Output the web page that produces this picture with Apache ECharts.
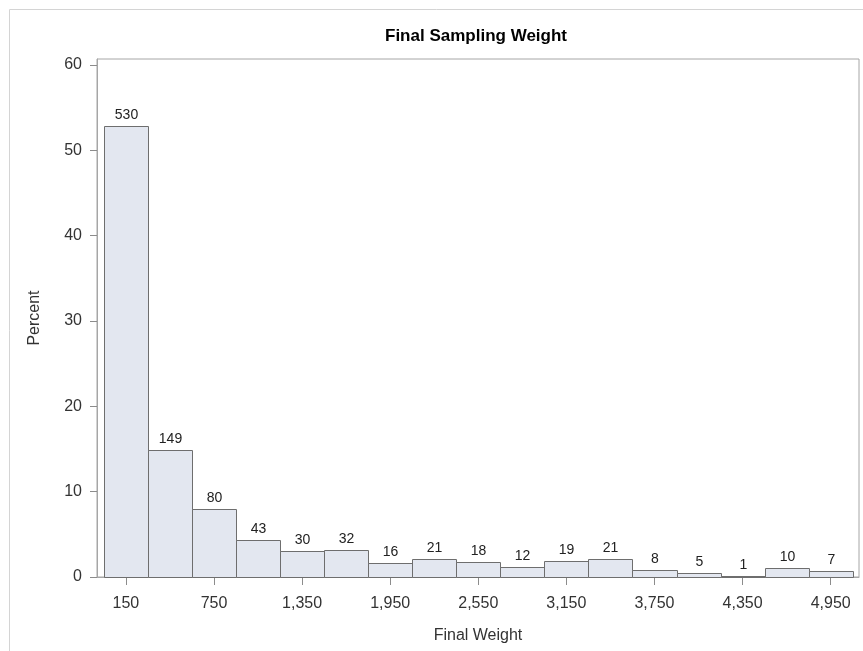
<!DOCTYPE html>
<html>
<head>
<meta charset="utf-8">
<script src="https://cdn.jsdelivr.net/npm/echarts@6/dist/echarts.min.js"></script>
<style>
  html, body { margin: 0; padding: 0; background: #fff; }
  #chart { width: 863px; height: 651px; }
</style>
</head>
<body>
<div id="chart"></div>
<script>
// bins of width 300, left edges
var binStart = [0, 300, 600, 900, 1200, 1500, 1800, 2100, 2400, 2700, 3000, 3300, 3600, 3900, 4200, 4500, 4800];
var binWidth = 300;
// percent of observations in each bin (bar heights)
var percent = [52.9, 14.9, 8.0, 4.3, 3.0, 3.2, 1.6, 2.1, 1.8, 1.2, 1.9, 2.1, 0.8, 0.5, 0.1, 1.0, 0.7];
// counts shown above the bars
var counts = [530, 149, 80, 43, 30, 32, 16, 21, 18, 12, 19, 21, 8, 5, 1, 10, 7];
var xTicks = [150, 750, 1350, 1950, 2550, 3150, 3750, 4350, 4950];
var yTicks = [0, 10, 20, 30, 40, 50, 60];

var barData = binStart.map(function (s, i) {
  return [s, s + binWidth, percent[i], counts[i]];
});

var chart = echarts.init(document.getElementById("chart"));

var option = {
  animation: false,
  textStyle: { fontFamily: "Liberation Sans, Arial, sans-serif" },
  title: {
    text: "Final Sampling Weight",
    left: 471,
    textAlign: "center",
    top: 23,
    textStyle: { fontSize: 17, fontWeight: "bold", color: "#000" },
  },
  graphic: [
    {
      type: "rect",
      shape: { x: 9.5, y: 9.5, width: 870, height: 660 },
      style: { fill: null, stroke: "#d4d4d4", lineWidth: 1 },
      silent: true,
    },
  ],
  grid: {
    left: 97,
    right: 4,
    top: 59,
    bottom: 74,
    show: true,
    borderColor: "#a6a6a6",
    borderWidth: 1,
  },
  xAxis: {
    type: "value",
    min: -47,
    max: 5143,
    name: "Final Weight",
    nameLocation: "middle",
    nameGap: 51,
    nameTextStyle: { fontSize: 16, color: "#333" },
    axisLine: { show: true, onZero: false, lineStyle: { color: "#a6a6a6" } },
    axisTick: {
      show: true,
      length: 8,
      customValues: xTicks,
      lineStyle: { color: "#8c8c8c" },
    },
    axisLabel: {
      customValues: xTicks,
      fontSize: 16,
      color: "#333",
      margin: 19,
      formatter: function (v) { return v.toLocaleString("en-US"); },
    },
    splitLine: { show: false },
  },
  yAxis: {
    type: "value",
    min: 0,
    max: 60.7,
    name: "Percent",
    nameLocation: "middle",
    nameGap: 54,
    nameTextStyle: { fontSize: 16, color: "#333" },
    axisLine: { show: true, onZero: false, lineStyle: { color: "#a6a6a6" } },
    axisTick: {
      show: true,
      length: 7,
      customValues: yTicks,
      lineStyle: { color: "#8c8c8c" },
    },
    axisLabel: {
      customValues: yTicks,
      fontSize: 16,
      color: "#333",
      margin: 15,
    },
    splitLine: { show: false },
  },
  series: [
    {
      type: "custom",
      data: barData,
      encode: { x: [0, 1], y: 2 },
      renderItem: function (params, api) {
        var p0 = api.coord([api.value(0), api.value(2)]);
        var p1 = api.coord([api.value(1), 0]);
        var x0 = Math.round(p0[0]) + 0.5;
        var x1 = Math.round(p1[0]) + 0.5;
        var y0 = Math.round(p0[1]) + 0.5;
        var y1 = Math.round(p1[1]) + 0.5;
        return {
          type: "group",
          children: [
            {
              type: "rect",
              shape: { x: x0, y: y0, width: x1 - x0, height: y1 - y0 },
              style: { fill: "#e3e7f0", stroke: "#6e6e6e", lineWidth: 1 },
            },
            {
              type: "text",
              x: (x0 + x1) / 2,
              y: y0 - 4,
              style: {
                text: String(api.value(3)),
                fill: "#222",
                fontSize: 14,
                fontFamily: "Liberation Sans, Arial, sans-serif",
                textAlign: "center",
                textVerticalAlign: "bottom",
              },
            },
          ],
        };
      },
    },
  ],
};

chart.setOption(option);
</script>
</body>
</html>
